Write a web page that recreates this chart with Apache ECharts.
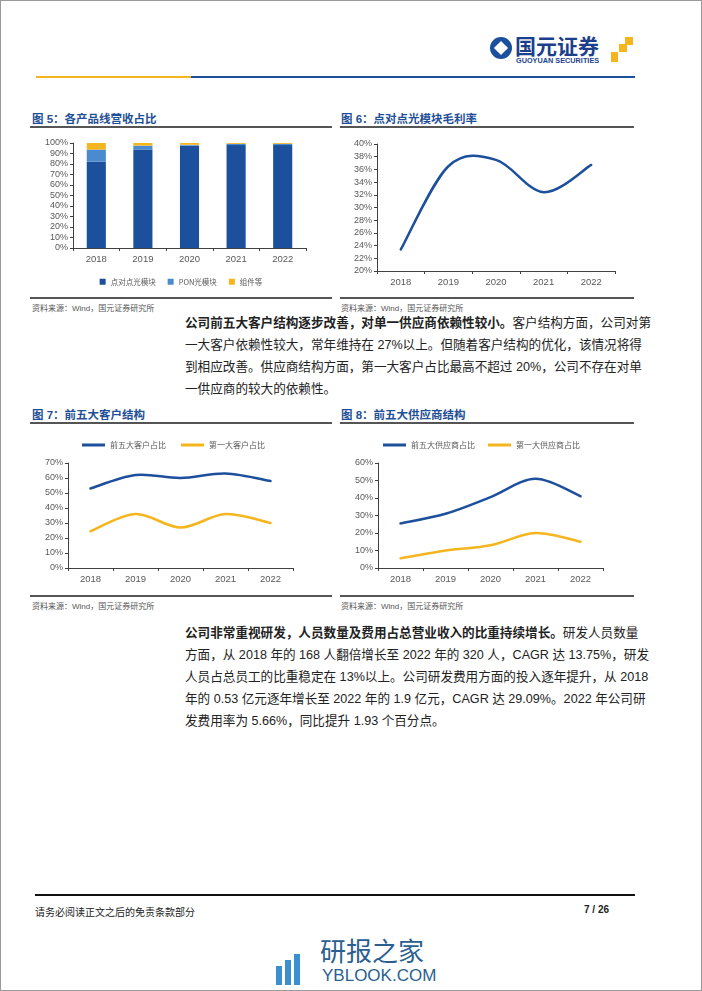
<!DOCTYPE html>
<html><head><meta charset="utf-8">
<script src="https://cdn.jsdelivr.net/npm/echarts@6/dist/echarts.min.js"></script>
<style>
html,body{margin:0;padding:0;background:#fff;}
body{width:702px;height:991px;position:relative;overflow:hidden;font-family:"Liberation Sans","Noto Sans CJK SC",sans-serif;}
.abs{position:absolute;}
.frame{left:0;top:0;width:700px;height:989px;border:1px solid #9a9a9a;}
.title{font-size:11.5px;font-weight:bold;color:#1f4f96;white-space:nowrap;}
.tline{height:1.5px;background:#555;}
.src{font-size:8px;color:#555;white-space:nowrap;}
.para{left:185px;width:450px;font-size:12.6px;color:#222;}
.para div{height:22px;line-height:22px;text-align:justify;text-align-last:justify;white-space:nowrap;}
.para div.last{text-align-last:left;}
.chart{position:absolute;}
</style></head>
<body>
<div class="abs frame"></div>
<!-- header -->
<div class="abs" style="left:490px;top:37px;width:22px;height:22px;border-radius:50%;background:#1c4f9c;"></div>
<div class="abs" style="left:496px;top:43px;width:10px;height:10px;background:#fff;transform:rotate(45deg);"></div>
<div class="abs" style="left:515px;top:32px;font-size:21px;font-weight:bold;color:#1c3f8c;font-family:'Noto Sans CJK SC';white-space:nowrap;line-height:26px;">国元证券</div>
<div class="abs" style="left:516px;top:56px;font-size:7.3px;font-weight:bold;color:#1c3f8c;white-space:nowrap;">GUOYUAN SECURITIES</div>
<div class="abs" style="left:625px;top:37px;width:8px;height:8px;background:#f5b51f;"></div>
<div class="abs" style="left:619px;top:44px;width:8px;height:8px;background:#f5b51f;"></div>
<div class="abs" style="left:611px;top:52px;width:7px;height:10px;background:#f5b51f;"></div>
<div class="abs" style="left:36px;top:76px;width:155px;height:2px;background:#f5b51f;"></div>
<div class="abs" style="left:191px;top:76px;width:444px;height:2px;background:#1c4f9c;"></div>

<!-- figure 5 / 6 titles -->
<div class="abs title" style="left:32px;top:110px;">图 5：各产品线营收占比</div>
<div class="abs tline" style="left:30px;top:126px;width:302px;"></div>
<div class="abs title" style="left:341px;top:110px;">图 6：点对点光模块毛利率</div>
<div class="abs tline" style="left:340px;top:126px;width:294px;"></div>
<div id="c5" class="chart" style="left:30px;top:130px;width:302px;height:165px;"></div>
<div id="c6" class="chart" style="left:340px;top:130px;width:294px;height:165px;"></div>
<div class="abs tline" style="left:30px;top:297px;width:302px;"></div>
<div class="abs tline" style="left:340px;top:297px;width:294px;"></div>
<div class="abs src" style="left:32px;top:302px;">资料来源：Wind，国元证券研究所</div>
<div class="abs src" style="left:341px;top:302px;">资料来源：Wind，国元证券研究所</div>

<div class="abs para" style="top:312px;">
<div><b>公司前五大客户结构逐步改善，对单一供应商依赖性较小。</b>客户结构方面，公司对第</div>
<div>一大客户依赖性较大，常年维持在 27%以上。但随着客户结构的优化，该情况将得</div>
<div>到相应改善。供应商结构方面，第一大客户占比最高不超过 20%，公司不存在对单</div>
<div class="last">一供应商的较大的依赖性。</div>
</div>

<!-- figure 7 / 8 -->
<div class="abs title" style="left:32px;top:406px;">图 7：前五大客户结构</div>
<div class="abs tline" style="left:30px;top:422px;width:302px;"></div>
<div class="abs title" style="left:341px;top:406px;">图 8：前五大供应商结构</div>
<div class="abs tline" style="left:340px;top:422px;width:294px;"></div>
<div id="c7" class="chart" style="left:30px;top:428px;width:302px;height:165px;"></div>
<div id="c8" class="chart" style="left:340px;top:428px;width:294px;height:165px;"></div>
<div class="abs tline" style="left:30px;top:595px;width:302px;"></div>
<div class="abs tline" style="left:340px;top:595px;width:294px;"></div>
<div class="abs src" style="left:32px;top:600px;">资料来源：Wind，国元证券研究所</div>
<div class="abs src" style="left:341px;top:600px;">资料来源：Wind，国元证券研究所</div>

<div class="abs para" style="top:622px;">
<div><b>公司非常重视研发，人员数量及费用占总营业收入的比重持续增长。</b>研发人员数量</div>
<div>方面，从 2018 年的 168 人翻倍增长至 2022 年的 320 人，CAGR 达 13.75%，研发</div>
<div>人员占总员工的比重稳定在 13%以上。公司研发费用方面的投入逐年提升，从 2018</div>
<div>年的 0.53 亿元逐年增长至 2022 年的 1.9 亿元，CAGR 达 29.09%。2022 年公司研</div>
<div class="last">发费用率为 5.66%，同比提升 1.93 个百分点。</div>
</div>

<!-- footer -->
<div class="abs" style="left:35px;top:894px;width:600px;height:2px;background:#111;"></div>
<div class="abs" style="left:35px;top:904px;font-size:10px;color:#222;white-space:nowrap;">请务必阅读正文之后的免责条款部分</div>
<div class="abs" style="left:584px;top:904px;font-size:10px;font-weight:bold;color:#222;white-space:nowrap;">7 / 26</div>
<!-- watermark -->
<div class="abs" style="left:276px;top:966px;width:6px;height:19px;background:#3a8fd0;"></div>
<div class="abs" style="left:285px;top:960px;width:6px;height:25px;background:#3a8fd0;"></div>
<div class="abs" style="left:294px;top:954px;width:6px;height:31px;background:#3a8fd0;"></div>
<div class="abs" style="left:320px;top:935px;font-size:26px;color:#2a5f8f;font-family:'Noto Sans CJK SC';white-space:nowrap;line-height:30px;">研报之家</div>
<div class="abs" style="left:322px;top:966px;font-size:17px;color:#2a5f8f;white-space:nowrap;line-height:20px;">YBLOOK.COM</div>

<script>
var years = ['2018','2019','2020','2021','2022'];
// Fig 5: revenue share by product line (%)
var p2pShare = [82.5, 93.7, 97.5, 98.0, 98.0];
var ponShare = [11.2, 3.8, 0.8, 1.2, 1.2];
var compShare = [6.3, 2.5, 1.7, 0.8, 0.8];
// Fig 6: point-to-point module gross margin (%)
var grossMargin = [23.4, 36.5, 37.5, 32.4, 36.7];
// Fig 7: customer concentration (%)
var top5Customer = [53, 62, 60, 63, 58];
var top1Customer = [24.5, 36, 27, 36, 30];
// Fig 8: supplier concentration (%)
var top5Supplier = [25.5, 31, 40.5, 51, 41];
var top1Supplier = [5.5, 10, 13, 20, 15];

var DARK = '#1c4f9c', LIGHT = '#4a8bd0', GOLD = '#f5b51f';
var AX = '#404040', LBL = '#595959';
var numFont = 'Liberation Sans';
var cnFont = 'Noto Sans CJK SC';

function xAxisCfg(){
  return {type:'category', data:years, boundaryGap:true,
    axisLine:{show:true, lineStyle:{color:AX, width:1}},
    axisTick:{show:true, alignWithLabel:false, length:3, inside:false, lineStyle:{color:AX}},
    axisLabel:{color:LBL, fontSize:9.5, fontFamily:numFont, margin:6}};
}
function yAxisCfg(min,max,interval){
  return {type:'value', min:min, max:max, interval:interval,
    axisLine:{show:true, lineStyle:{color:AX, width:1}},
    axisTick:{show:true, length:3, lineStyle:{color:AX}},
    splitLine:{show:false},
    axisLabel:{color:LBL, fontSize:9, fontFamily:numFont, margin:5, formatter:'{value}%'}};
}

// Office-style smoothed line: the whole path is built from the data values mapped by api.coord
function smoothSeries(name, values, color){
  return {
    name:name, type:'custom', coordinateSystem:'cartesian2d',
    data: values.map(function(v,i){ return [i, v]; }),
    encode:{x:0, y:1},
    itemStyle:{color:color},
    renderItem:function(params, api){
      if (params.dataIndex !== 0) return null;
      var pts = values.map(function(v,i){ return api.coord([i, v]); });
      var d = 'M' + pts[0][0] + ' ' + pts[0][1];
      for (var i = 0; i < pts.length - 1; i++){
        var p0 = pts[Math.max(i-1,0)], p1 = pts[i], p2 = pts[i+1], p3 = pts[Math.min(i+2, pts.length-1)];
        var c1x = p1[0] + (p2[0]-p0[0])/6, c1y = p1[1] + (p2[1]-p0[1])/6;
        var c2x = p2[0] - (p3[0]-p1[0])/6, c2y = p2[1] - (p3[1]-p1[1])/6;
        d += ' C' + c1x + ' ' + c1y + ' ' + c2x + ' ' + c2y + ' ' + p2[0] + ' ' + p2[1];
      }
      return {type:'path', shape:{pathData:d},
        style:{stroke:color, fill:null, lineWidth:2.5, lineCap:'round', lineJoin:'round'}};
    }
  };
}

var c5 = echarts.init(document.getElementById('c5'));
c5.setOption({
  animation:false,
  grid:{left:43, top:13, width:233, height:105},
  xAxis:xAxisCfg(),
  yAxis:yAxisCfg(0,100,10),
  legend:{top:143, left:'center', itemWidth:6, itemHeight:6, itemGap:12, icon:'rect',
    textStyle:{fontSize:7.5, color:LBL, fontFamily:cnFont}},
  series:[
    {name:'点对点光模块', type:'bar', stack:'s', data:p2pShare, barWidth:'41%', itemStyle:{color:DARK}},
    {name:'PON光模块', type:'bar', stack:'s', data:ponShare, itemStyle:{color:LIGHT}},
    {name:'组件等', type:'bar', stack:'s', data:compShare, itemStyle:{color:GOLD}}
  ]
});

var c6 = echarts.init(document.getElementById('c6'));
c6.setOption({
  animation:false,
  grid:{left:37, top:14, width:238, height:127},
  xAxis:xAxisCfg(),
  yAxis:yAxisCfg(20,40,2),
  series:[smoothSeries('毛利率', grossMargin, DARK)]
});

function lineChart(el, a, b, nameA, nameB, max, legendLeft, gap){
  var c = echarts.init(document.getElementById(el));
  c.setOption({
    animation:false,
    grid:{left:38, top:35, width:225, height:105},
    xAxis:xAxisCfg(),
    yAxis:yAxisCfg(0,max,10),
    legend:{top:8, left:legendLeft, itemWidth:23, itemHeight:3, itemGap:gap, icon:'rect',
      textStyle:{fontSize:8, color:LBL, fontFamily:cnFont}},
    series:[smoothSeries(nameA, a, DARK), smoothSeries(nameB, b, GOLD)]
  });
}
lineChart('c7', top5Customer, top1Customer, '前五大客户占比', '第一大客户占比', 70, 47, 15);
lineChart('c8', top5Supplier, top1Supplier, '前五大供应商占比', '第一大供应商占比', 60, 38, 13);
</script>
</body></html>
